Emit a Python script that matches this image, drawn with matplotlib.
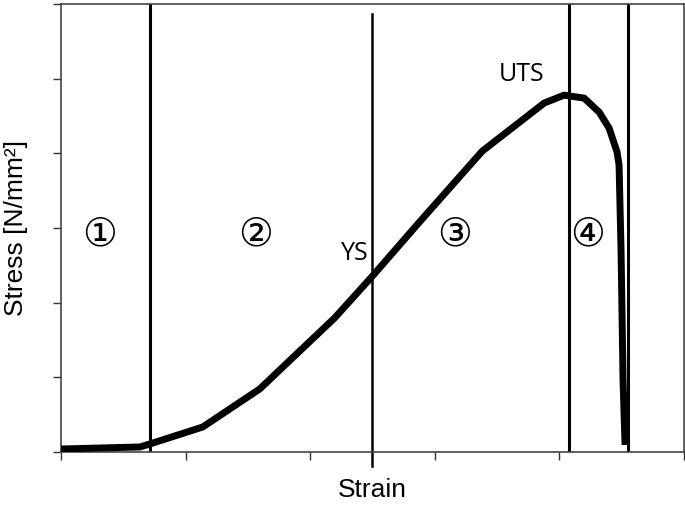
import matplotlib
matplotlib.use('Agg')
import matplotlib.pyplot as plt

# stress-strain curve (arbitrary units)
strain = [0.0, 0.633, 0.713, 1.138, 1.595, 2.196, 2.5, 2.877, 3.381, 3.702, 3.878,
          4.038, 4.199, 4.319, 4.399, 4.439, 4.463, 4.479, 4.495, 4.511, 4.527]
stress = [0.04, 0.067, 0.107, 0.335, 0.844, 1.795, 2.357, 3.08, 4.03, 4.446, 4.674,
          4.78, 4.74, 4.553, 4.339, 4.138, 4.018, 3.844, 2.705, 0.964, 0.094]

# region boundaries
bounds = [0.713, 2.5, 4.08, 4.55]
regions = ['\u2460', '\u2461', '\u2462', '\u2463']
region_x = [0.313, 1.5625, 3.157, 4.223]
region_y = 2.92

fig = plt.figure(figsize=(6.85, 5.09), dpi=100)
ax = fig.add_axes([0.089, 0.112, 0.9095, 0.88])

ax.plot(strain, stress, color='black', lw=5, solid_joinstyle='round', solid_capstyle='butt', zorder=3)

ax.axvline(bounds[0], ymin=0, ymax=1, color='black', lw=2.2)
ax.plot([bounds[1], bounds[1]], [-0.19, 5.866], color='black', lw=1.8, clip_on=False)
ax.axvline(bounds[2], color='black', lw=2.2)
ax.axvline(bounds[3], color='black', lw=2.2)

for lab, x in zip(regions, region_x):
    ax.text(x, region_y, lab, ha='center', va='center', fontsize=28,
            family='DejaVu Sans')

ax.text(2.356, 2.665, 'YS', ha='center', va='center', fontsize=18, family='Open Sans')
ax.text(3.694, 5.062, 'UTS', ha='center', va='center', fontsize=18, family='Open Sans')

ax.set_xlim(0, 5)
ax.set_ylim(0, 6)
ax.set_xticks(range(6))
ax.set_yticks(range(7))
ax.set_xticklabels([])
ax.set_yticklabels([])
ax.tick_params(direction='out', length=6, width=1, color='#333333')
for s in ax.spines.values():
    s.set_color('#444444')
    s.set_linewidth(1.2)

ax.set_xlabel('Strain', fontsize=19, family='Liberation Sans', labelpad=9)
ax.set_ylabel('Stress [N/mm\u00b2]', fontsize=19, family='Liberation Sans', labelpad=14)

fig.savefig('out.png', dpi=100)
